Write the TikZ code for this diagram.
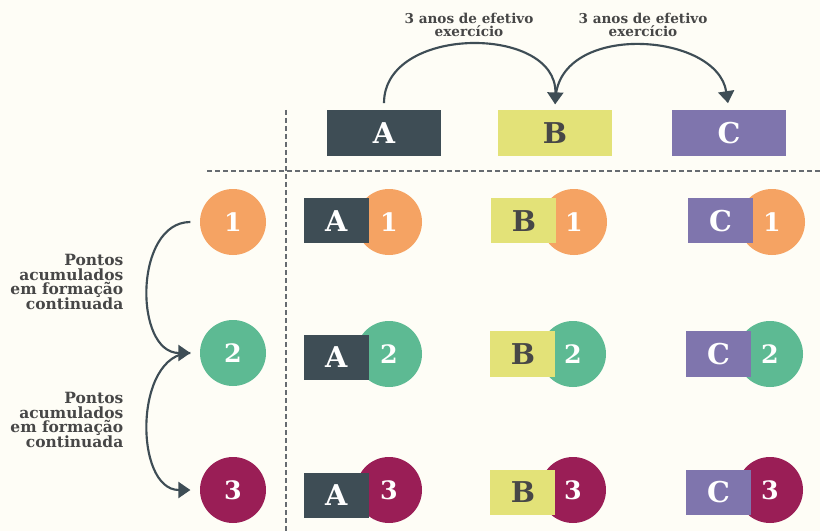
\documentclass[tikz,border=0pt]{standalone}
\usepackage{fontspec}
\setmainfont{DejaVu Serif}
\usetikzlibrary{positioning,arrows.meta}

\definecolor{paper}{HTML}{FEFDF6}
\definecolor{slate}{HTML}{3E4D55}
\definecolor{lime}{HTML}{E3E278}
\definecolor{lavender}{HTML}{7F75AD}
\definecolor{peach}{HTML}{F5A363}
\definecolor{mint}{HTML}{5DBA93}
\definecolor{wine}{HTML}{9A1E56}
\definecolor{ink}{HTML}{474747}
\definecolor{rule}{HTML}{666B70}

\begin{document}
\begin{tikzpicture}[
    x=0.75pt, y=-0.75pt,
    level/.style={rectangle, inner sep=0pt, minimum width=85.5pt, minimum height=34.5pt,
        font=\bfseries\fontsize{21.5}{21.5}\selectfont},
    tag/.style={rectangle, inner sep=0pt, minimum width=48.75pt, minimum height=34pt,
        font=\bfseries\fontsize{21.5}{21.5}\selectfont},
    step1/.style={circle, inner sep=0pt, minimum size=49.5pt, fill=peach, text=white,
        font=\bfseries\fontsize{19}{19}\selectfont},
    step2/.style={step1, fill=mint},
    step3/.style={step1, fill=wine},
    lvA/.style={fill=slate, text=white},
    lvB/.style={fill=lime, text=ink},
    lvC/.style={fill=lavender, text=white},
    note/.style={text=ink, font=\bfseries\fontsize{10.2}{9.8}\selectfont, align=center},
    sidenote/.style={text=ink, font=\bfseries\fontsize{11.6}{11.2}\selectfont, align=right, anchor=east},
    jump/.style={-{Triangle[length=9pt,width=12pt]}, line width=1.6pt, draw=slate},
    guide/.style={draw=rule, line width=0.9pt, dash pattern=on 3.5pt off 2.5pt},
]

% paper
\fill[paper] (0,0) rectangle (820,531);
\useasboundingbox (0,0) rectangle (820,531);

% dashed guides
\draw[guide] (286,110) -- (286,531);
\draw[guide] (207,171) -- (820,171);

% levels on top
\node[level, lvA] (topA) at (384,133) {A};
\node[level, lvB] (topB) at (555,133) {B};
\node[level, lvC] (topC) at (729,133) {C};

\draw[jump, shorten <=5pt, shorten >=4pt]
    (topA.north) .. controls +(0,-85) and +(2,-85) .. (topB.north);
\draw[jump, shorten <=8pt, shorten >=5pt]
    (topB.north) .. controls +(4,-88) and +(-12,-78) .. (topC.north);

\node[note] (gapAB) at (469,25) {3 anos de efetivo\\exercício};
\node[note] (gapBC) at (643,25) {3 anos de efetivo\\exercício};

% steps on the left
\node[step1] (s1) at (233,222) {1};
\node[step2] (s2) at (233,353) {2};
\node[step3] (s3) at (233,490) {3};

\draw[jump, shorten <=7pt, shorten >=7pt]
    (s1.west) .. controls +(-66,0) and +(-66,0) .. (s2.west);
\draw[jump, shorten <=7pt, shorten >=7pt]
    (s2.west) .. controls +(-66,0) and +(-66,0) .. (s3.west);

\node[sidenote] (pts12) at (128,282) {Pontos\\acumulados\\em formação\\continuada};
\node[sidenote] (pts23) at (128,420) {Pontos\\acumulados\\em formação\\continuada};

% grid: row 1
\node[step1] (a1c) at (389,222) {1};
\node[tag, lvA, left=15pt of a1c.center, yshift=1pt] (a1) {A};
\node[step1] (b1c) at (574,222) {1};
\node[tag, lvB, left=13pt of b1c.center, yshift=1pt] (b1) {B};
\node[step1] (c1c) at (772,222) {1};
\node[tag, lvC, left=14pt of c1c.center, yshift=1pt] (c1) {C};

% row 2
\node[step2] (a2c) at (389,354) {2};
\node[tag, lvA, left=15pt of a2c.center, yshift=-2.6pt] (a2) {A};
\node[step2] (b2c) at (573,354) {2};
\node[tag, lvB, left=13pt of b2c.center] (b2) {B};
\node[step2] (c2c) at (770,354) {2};
\node[tag, lvC, left=14pt of c2c.center] (c2) {C};

% row 3
\node[step3] (a3c) at (389,490) {3};
\node[tag, lvA, left=15pt of a3c.center, yshift=-4pt] (a3) {A};
\node[step3] (b3c) at (573,490) {3};
\node[tag, lvB, left=13pt of b3c.center, yshift=-1.8pt] (b3) {B};
\node[step3] (c3c) at (770,490) {3};
\node[tag, lvC, left=14pt of c3c.center, yshift=-1.8pt] (c3) {C};

\end{tikzpicture}
\end{document}
